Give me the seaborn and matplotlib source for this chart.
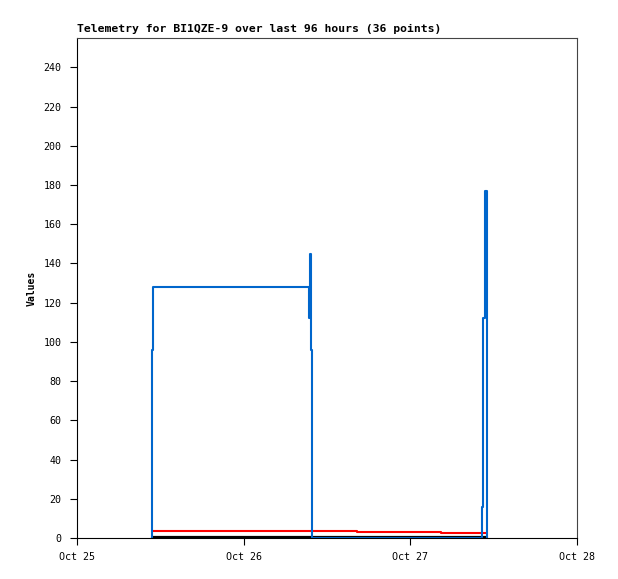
#!/usr/bin/env python
# -*- encoding: utf8 -*-
import matplotlib
matplotlib.use("Agg")
import matplotlib.pyplot as plt
import numpy as np
import pandas as pd
import seaborn as sns


# Hours since Oct 25 00:00 for each telemetry sample
hours = [10.80, 10.85, 10.95, 33.34, 33.55, 33.70, 33.84, 33.90,
         40.30, 52.40, 58.30, 58.47, 58.80, 58.97]

# Channel values
blue_values = [0, 96, 128, 112, 145, 96, 16, 0,
               0, 0, 16, 112, 177, 0]
red_values = [3.6, 3.6, 3.6, 3.6, 3.6, 3.6, 3.6, 3.6,
              3.1, 2.6, 2.6, 2.6, 2.6, 2.6]
black_values = [0.5] * len(hours)

start = pd.Timestamp("2024-10-25 00:00")
x_ticks = pd.date_range(start, periods=4, freq="D")
x_tick_labels = ["Oct 25", "Oct 26", "Oct 27", "Oct 28"]
y_ticks = list(range(0, 241, 20))

times = start + pd.to_timedelta(hours, unit="h")
data = pd.DataFrame({
    "time": times,
    "blue": blue_values,
    "red": red_values,
    "black": black_values,
})

sns.set_theme(style="ticks")
plt.rcParams["font.family"] = ["DejaVu Sans Mono"]
plt.rcParams["text.color"] = "black"
plt.rcParams["axes.labelcolor"] = "black"

figure = plt.figure(figsize=(6.18, 5.79), dpi=100)
axes = figure.add_axes([77 / 618, 41 / 579, 500 / 618, 500 / 579])

sns.lineplot(data=data, x="time", y="black", ax=axes, color="black",
             drawstyle="steps-post", linewidth=1.6, estimator=None)
sns.lineplot(data=data, x="time", y="red", ax=axes, color="#ff0000",
             drawstyle="steps-post", linewidth=1.5, estimator=None)
sns.lineplot(data=data, x="time", y="blue", ax=axes, color="#0066cc",
             drawstyle="steps-post", linewidth=1.5, estimator=None)

axes.set_xlim(x_ticks[0], x_ticks[-1])
axes.set_ylim(0, 255)
axes.set_xticks(x_ticks)
axes.set_xticklabels(x_tick_labels)
axes.set_yticks(y_ticks)
axes.tick_params(axis="both", labelsize=7.2, length=5, width=0.8,
                 direction="out", colors="black")
axes.tick_params(axis="y", pad=6)
axes.tick_params(axis="x", pad=5)

for side in ["top", "right"]:
    axes.spines[side].set_visible(True)
    axes.spines[side].set_color("#444444")
    axes.spines[side].set_linewidth(0.8)
for side in ["left", "bottom"]:
    axes.spines[side].set_color("black")
    axes.spines[side].set_linewidth(0.8)

axes.set_xlabel("")
axes.set_ylabel("Values", fontsize=7, fontweight="bold", labelpad=5,
                color="black")
axes.set_title("Telemetry for BI1QZE-9 over last 96 hours (36 points)",
               loc="left", fontsize=8.2, fontweight="bold", pad=4,
               color="black")

plt.savefig("out.png", dpi=100)
